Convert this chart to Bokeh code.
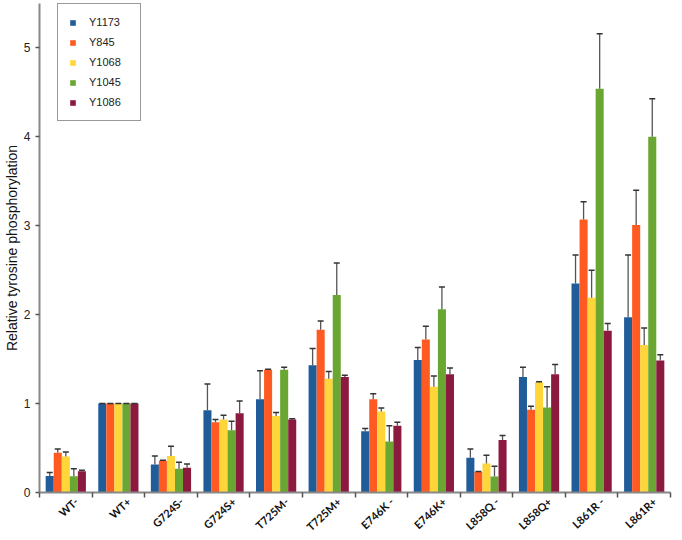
import numpy as np
from bokeh.plotting import figure
from bokeh.models import ColumnDataSource, Range1d, FixedTicker, Whisker, TeeHead
from bokeh.embed import file_html
from bokeh.resources import INLINE

categories = ["WT-", "WT+", "G724S-", "G724S+", "T725M-", "T725M+",
              "E746K -", "E746K+", "L858Q -", "L858Q+", "L861R -", "L861R+"]
series = ["Y1173", "Y845", "Y1068", "Y1045", "Y1086"]
colors = ["#1F5C99", "#FF5A22", "#FFD63A", "#6AA632", "#8C1A3F"]

y1173 = [0.185, 1.0, 0.315, 0.925, 1.05, 1.43, 0.69, 1.49, 0.39, 1.30, 2.35, 1.97]
y845 = [0.447, 1.0, 0.357, 0.79, 1.38, 1.83, 1.05, 1.72, 0.23, 0.93, 3.07, 3.01]
y1068 = [0.406, 1.0, 0.41, 0.82, 0.86, 1.28, 0.91, 1.19, 0.325, 1.24, 2.19, 1.66]
y1045 = [0.184, 1.0, 0.267, 0.70, 1.38, 2.22, 0.575, 2.06, 0.18, 0.955, 4.54, 4.00]
y1086 = [0.24, 1.0, 0.278, 0.89, 0.82, 1.30, 0.75, 1.33, 0.59, 1.33, 1.82, 1.485]

e1173 = [0.04, 0.0, 0.095, 0.295, 0.32, 0.19, 0.03, 0.14, 0.10, 0.11, 0.32, 0.70]
e845 = [0.043, 0.0, 0.005, 0.03, 0.005, 0.10, 0.06, 0.15, 0.005, 0.04, 0.20, 0.39]
e1068 = [0.05, 0.0, 0.11, 0.05, 0.04, 0.08, 0.04, 0.12, 0.095, 0.005, 0.31, 0.19]
e1045 = [0.083, 0.0, 0.073, 0.10, 0.03, 0.36, 0.175, 0.25, 0.115, 0.235, 0.62, 0.43]
e1086 = [0.01, 0.0, 0.042, 0.14, 0.01, 0.02, 0.04, 0.07, 0.05, 0.11, 0.08, 0.065]

y_ticks = [0, 1, 2, 3, 4, 5]

values = [y1173, y845, y1068, y1045, y1086]
errors = [e1173, e845, e1068, e1045, e1086]

n = len(categories)
shift = 0.2       # label anchor offset from category centre
bar_w = 0.153
idx = np.arange(n)

p = figure(width=674, height=540, output_backend="svg", toolbar_location=None,
           x_range=Range1d(-0.5 - shift, n - 0.5 - shift), y_range=Range1d(0, 5.5),
           min_border_left=34, min_border_right=4, min_border_top=3, min_border_bottom=46)
p.outline_line_color = None
p.grid.visible = False
p.background_fill_color = "white"
p.border_fill_color = "white"

for j, (name, vals, errs, col) in enumerate(zip(series, values, errors, colors)):
    xs = idx - shift + (j - 2) * bar_w
    src = ColumnDataSource(dict(x=xs, top=vals, upper=np.array(vals) + np.array(errs)))
    p.vbar(x="x", top="top", width=bar_w, bottom=0, source=src, fill_color=col,
           line_color=None, legend_label=name)
    w = Whisker(source=src, base="x", lower="top", upper="upper", dimension="height",
                line_color="#555555", line_width=1.3, level="annotation",
                upper_head=TeeHead(size=6, line_color="#333333", line_width=1.5),
                lower_head=None)
    p.add_layout(w)

# x axis
xa = p.xaxis[0]
xa.axis_label = None
xa.ticker = FixedTicker(ticks=list(range(n)),
                        minor_ticks=[i - 0.5 - shift for i in range(n + 1)])
xa.major_label_overrides = {i: c for i, c in enumerate(categories)}
xa.major_tick_out = 0
xa.major_tick_in = 0
xa.minor_tick_out = 5
xa.minor_tick_in = 0
xa.minor_tick_line_color = "#555555"
xa.minor_tick_line_width = 1.5
xa.axis_line_color = "#888888"
xa.axis_line_width = 2
xa.major_label_orientation = 0.75
xa.major_label_text_font = "Lato"
xa.major_label_text_font_style = "bold"
xa.major_label_text_font_size = "11px"
xa.major_label_text_color = "#111111"
xa.major_label_standoff = 2

# y axis
ya = p.yaxis[0]
ya.ticker = FixedTicker(ticks=y_ticks)
ya.minor_tick_out = 0
ya.minor_tick_in = 0
ya.major_tick_out = 4
ya.major_tick_in = 0
ya.major_tick_line_color = "#555555"
ya.major_tick_line_width = 1.3
ya.axis_line_color = "#888888"
ya.axis_line_width = 2
ya.major_label_text_font = "Liberation Sans"
ya.major_label_text_font_size = "12px"
ya.major_label_text_color = "#222222"
ya.major_label_standoff = 5
ya.axis_label = "Relative tyrosine phosphorylation"
ya.axis_label_text_font = "Liberation Sans"
ya.axis_label_text_font_style = "normal"
ya.axis_label_text_font_size = "14px"
ya.axis_label_text_color = "#111111"
ya.axis_label_standoff = 1

lg = p.legend[0]
lg.location = (18, 371)
lg.border_line_color = "#333333"
lg.border_line_width = 1
lg.background_fill_color = "white"
lg.background_fill_alpha = 1
lg.padding = 11
lg.spacing = 6
lg.margin = 0
lg.glyph_width = 7
lg.glyph_height = 7
lg.label_height = 14
lg.label_width = 40
lg.label_standoff = 13
lg.label_text_font = "Liberation Sans"
lg.label_text_font_size = "11px"
lg.label_text_color = "#222222"

open("out.html", "w").write(file_html(p, INLINE))
